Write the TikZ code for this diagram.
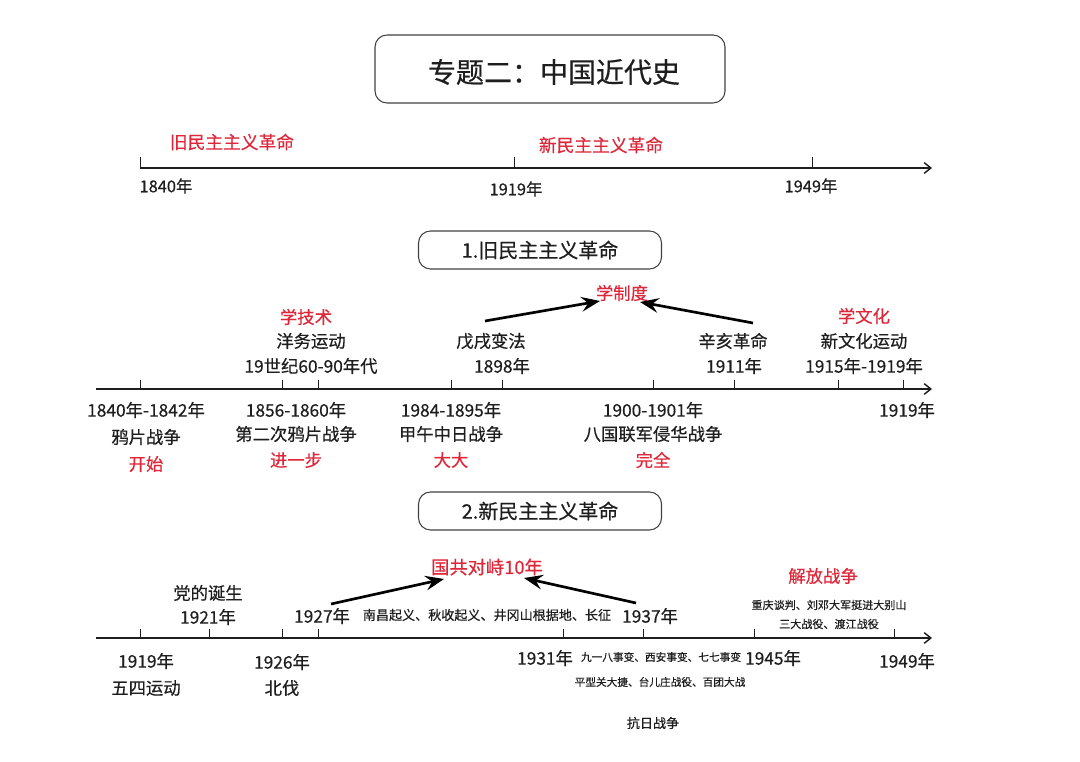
\documentclass[tikz,border=0pt]{standalone}
\usepackage{fontspec}
\setmainfont{Noto Sans CJK SC}[FakeBold=0.5]
\usetikzlibrary{arrows.meta}
\definecolor{redtxt}{RGB}{222,40,58}
\definecolor{inkc}{RGB}{30,30,30}
\begin{document}
\begin{tikzpicture}[x=0.75pt,y=-0.75pt,
  lbl/.style={font=\fontsize{13}{15}\selectfont,text=inkc,inner sep=0pt},
  rlbl/.style={font=\fontsize{13}{15}\selectfont,text=redtxt,inner sep=0pt},
  sml/.style={font=\fontsize{8.3}{10}\selectfont,text=inkc,inner sep=0pt},
  axis/.style={draw=inkc,line width=1.2pt,-{Straight Barb[length=5pt,width=8pt,line width=1.1pt]}},
  tick/.style={draw=inkc,line width=0.6pt},
  boxs/.style={draw=inkc!85,line width=0.8pt,rounded corners=9pt},
  bigarr/.style={draw=black,line width=2pt,-{Stealth[length=14pt,width=11pt,inset=5pt]}}]
\useasboundingbox (0,0) rectangle (1080,762);
% title
\node[boxs,minimum width=350*0.75pt,minimum height=68*0.75pt,inner sep=0pt] (title) at (550,69) {};
\node[font=\fontsize{21}{25}\selectfont,text=inkc] (titletxt) at (554,72) {专题二：中国近代史};
% top timeline
\coordinate (a0) at (140,168); \coordinate (a1) at (932,168);
\draw[axis] (a0) -- (a1);
\foreach \x/\n in {140/t1,514/t2,812/t3}{\coordinate (\n) at (\x,168); \draw[tick] (\n) -- ++(0,-11);}
\node[lbl,font=\fontsize{12.3}{14}\selectfont] (y1840) at (166,186) {1840年};
\node[lbl,font=\fontsize{12.3}{14}\selectfont] (y1919a) at (516,189) {1919年};
\node[lbl,font=\fontsize{12.3}{14}\selectfont] (y1949a) at (811,186) {1949年};
\node[rlbl,font=\fontsize{13.3}{15}\selectfont] (old) at (232,142) {旧民主主义革命};
\node[rlbl,font=\fontsize{13.3}{15}\selectfont] (new) at (601,145) {新民主主义革命};
% box 1
\node[boxs,minimum width=243*0.75pt,minimum height=38*0.75pt,inner sep=0pt,
  font=\fontsize{15}{17}\selectfont,text=inkc] (box1) at (540,250) {1.旧民主主义革命};
% timeline 2
\coordinate (b0) at (96,389); \coordinate (b1) at (932,389);
\draw[axis] (b0) -- (b1);
\foreach \x in {140,282,318,451,502,653,734,838,903}{\draw[tick] (\x,389) -- ++(0,-9);}
\node[rlbl] (xjs) at (306,317) {学技术};
\node[lbl] (ywyd) at (311,341) {洋务运动};
\node[lbl] (ywyr) at (311,366) {19世纪60-90年代};
\node[lbl] (wxbf) at (491,341) {戊戌变法};
\node[lbl] (y1898) at (502,366) {1898年};
\node[rlbl] (xzd) at (622,293) {学制度};
\node[lbl] (xhgm) at (733,341) {辛亥革命};
\node[lbl] (y1911) at (734,366) {1911年};
\node[rlbl] (xwh) at (864,316) {学文化};
\node[lbl] (xwhyd) at (864,341) {新文化运动};
\node[lbl] (y1915) at (864,366) {1915年-1919年};
\node[lbl] (y1840b) at (146,410) {1840年-1842年};
\node[lbl] (ypzz) at (146,437) {鸦片战争};
\node[rlbl] (ks) at (146,464) {开始};
\node[lbl] (y1856) at (296,410) {1856-1860年};
\node[lbl] (decyp) at (296,434) {第二次鸦片战争};
\node[rlbl] (jyb) at (296,460) {进一步};
\node[lbl] (y1984) at (451,410) {1984-1895年};
\node[lbl] (jwzr) at (451,434) {甲午中日战争};
\node[rlbl] (dd) at (451,460) {大大};
\node[lbl] (y1900) at (653,410) {1900-1901年};
\node[lbl] (bglj) at (653,434) {八国联军侵华战争};
\node[rlbl] (wq) at (653,460) {完全};
\node[lbl] (y1919b) at (907,410) {1919年};
\coordinate (p1) at (485,321); \coordinate (p2) at (600,301);
\coordinate (p3) at (753,323); \coordinate (p4) at (640,302);
\draw[bigarr] (p1) -- (p2);
\draw[bigarr] (p3) -- (p4);
% box 2
\node[boxs,minimum width=243*0.75pt,minimum height=38*0.75pt,inner sep=0pt,
  font=\fontsize{15}{17}\selectfont,text=inkc] (box2) at (540,511) {2.新民主主义革命};
% timeline 3
\coordinate (c0) at (96,638); \coordinate (c1) at (932,638);
\draw[axis] (c0) -- (c1);
\foreach \x in {140,209,282,318,563,643,754,894}{\draw[tick] (\x,638) -- ++(0,-9);}
\node[lbl] (ddds) at (208,593) {党的诞生};
\node[lbl] (y1921) at (208,617) {1921年};
\node[lbl] (y1927) at (322,616) {1927年};
\node[sml,font=\fontsize{9.8}{11}\selectfont] (ncqy) at (487,615) {南昌起义、秋收起义、井冈山根据地、长征};
\node[lbl] (y1937) at (650,616) {1937年};
\node[rlbl,font=\fontsize{13.7}{15}\selectfont] (gcdz) at (487,567) {国共对峙10年};
\coordinate (q1) at (331,604); \coordinate (q2) at (444,579);
\coordinate (q3) at (636,603); \coordinate (q4) at (524,578);
\draw[bigarr] (q1) -- (q2);
\draw[bigarr] (q3) -- (q4);
\node[rlbl] (jfzz) at (823,576) {解放战争};
\node[sml] (cqtp) at (829,605) {重庆谈判、刘邓大军挺进大别山};
\node[sml] (sdzy) at (829,624) {三大战役、渡江战役};
\node[lbl] (y1919c) at (146,661) {1919年};
\node[lbl] (wsyd) at (146,688) {五四运动};
\node[lbl] (y1926) at (282,662) {1926年};
\node[lbl] (bf) at (282,688) {北伐};
\node[lbl] (y1931) at (545,658) {1931年};
\node[sml,font=\fontsize{8}{10}\selectfont] (jyb918) at (661,657) {九一八事变、西安事变、七七事变};
\node[lbl] (y1945) at (773,658) {1945年};
\node[sml,font=\fontsize{8}{10}\selectfont] (pxg) at (660,682) {平型关大捷、台儿庄战役、百团大战};
\node[sml,font=\fontsize{9.8}{11}\selectfont] (krzz) at (653,723) {抗日战争};
\node[lbl] (y1949c) at (907,661) {1949年};
\end{tikzpicture}
\end{document}
